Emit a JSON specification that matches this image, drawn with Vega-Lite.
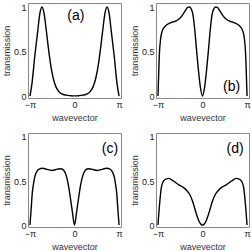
{
  "$schema": "https://vega.github.io/schema/vega-lite/v6.json",
  "padding": {"left": 1, "top": 2, "right": 0, "bottom": 0},
  "background": "white",
  "datasets": {
    "curves": [
      {"p":"a","x":-3.1416,"y":0},{"p":"a","x":-3.0,"y":0.14},{"p":"a","x":-2.8,"y":0.45},{"p":"a","x":-2.6,"y":0.72},{"p":"a","x":-2.45,"y":0.92},{"p":"a","x":-2.3,"y":1.0},{"p":"a","x":-2.15,"y":0.93},{"p":"a","x":-2.0,"y":0.75},{"p":"a","x":-1.85,"y":0.55},{"p":"a","x":-1.7,"y":0.37},{"p":"a","x":-1.5,"y":0.2},{"p":"a","x":-1.3,"y":0.1},{"p":"a","x":-1.1,"y":0.05},{"p":"a","x":-0.9,"y":0.025},{"p":"a","x":-0.6,"y":0.01},{"p":"a","x":-0.3,"y":0.004},{"p":"a","x":0,"y":0.002},
      {"p":"a","x":0.3,"y":0.004},{"p":"a","x":0.6,"y":0.01},{"p":"a","x":0.9,"y":0.025},{"p":"a","x":1.1,"y":0.05},{"p":"a","x":1.3,"y":0.1},{"p":"a","x":1.5,"y":0.2},{"p":"a","x":1.7,"y":0.37},{"p":"a","x":1.85,"y":0.55},{"p":"a","x":2.0,"y":0.75},{"p":"a","x":2.15,"y":0.93},{"p":"a","x":2.3,"y":1.0},{"p":"a","x":2.45,"y":0.92},{"p":"a","x":2.6,"y":0.72},{"p":"a","x":2.8,"y":0.45},{"p":"a","x":3.0,"y":0.14},{"p":"a","x":3.1416,"y":0},

      {"p":"b","x":-3.1416,"y":0},{"p":"b","x":-3.05,"y":0.45},{"p":"b","x":-2.95,"y":0.65},{"p":"b","x":-2.82,"y":0.74},{"p":"b","x":-2.6,"y":0.79},{"p":"b","x":-2.3,"y":0.82},{"p":"b","x":-2.0,"y":0.835},{"p":"b","x":-1.7,"y":0.86},{"p":"b","x":-1.45,"y":0.9},{"p":"b","x":-1.25,"y":0.95},{"p":"b","x":-1.05,"y":0.995},{"p":"b","x":-0.93,"y":1.0},{"p":"b","x":-0.8,"y":0.98},{"p":"b","x":-0.68,"y":0.92},{"p":"b","x":-0.55,"y":0.75},{"p":"b","x":-0.41,"y":0.5},{"p":"b","x":-0.28,"y":0.28},{"p":"b","x":-0.15,"y":0.1},{"p":"b","x":0,"y":0},
      {"p":"b","x":0.15,"y":0.1},{"p":"b","x":0.28,"y":0.28},{"p":"b","x":0.41,"y":0.5},{"p":"b","x":0.55,"y":0.75},{"p":"b","x":0.68,"y":0.92},{"p":"b","x":0.8,"y":0.98},{"p":"b","x":0.93,"y":1.0},{"p":"b","x":1.05,"y":0.995},{"p":"b","x":1.25,"y":0.95},{"p":"b","x":1.45,"y":0.9},{"p":"b","x":1.7,"y":0.86},{"p":"b","x":2.0,"y":0.835},{"p":"b","x":2.3,"y":0.82},{"p":"b","x":2.6,"y":0.79},{"p":"b","x":2.82,"y":0.74},{"p":"b","x":2.95,"y":0.65},{"p":"b","x":3.05,"y":0.45},{"p":"b","x":3.1416,"y":0},

      {"p":"c","x":-3.1416,"y":0},{"p":"c","x":-3.05,"y":0.2},{"p":"c","x":-2.98,"y":0.36},{"p":"c","x":-2.88,"y":0.48},{"p":"c","x":-2.8,"y":0.55},{"p":"c","x":-2.65,"y":0.61},{"p":"c","x":-2.5,"y":0.635},{"p":"c","x":-2.25,"y":0.645},{"p":"c","x":-2.0,"y":0.635},{"p":"c","x":-1.6,"y":0.62},{"p":"c","x":-1.2,"y":0.635},{"p":"c","x":-0.95,"y":0.64},{"p":"c","x":-0.75,"y":0.62},{"p":"c","x":-0.6,"y":0.57},{"p":"c","x":-0.45,"y":0.47},{"p":"c","x":-0.31,"y":0.33},{"p":"c","x":-0.15,"y":0.15},{"p":"c","x":0,"y":0},
      {"p":"c","x":0.15,"y":0.15},{"p":"c","x":0.31,"y":0.33},{"p":"c","x":0.45,"y":0.47},{"p":"c","x":0.6,"y":0.57},{"p":"c","x":0.75,"y":0.62},{"p":"c","x":0.95,"y":0.64},{"p":"c","x":1.2,"y":0.635},{"p":"c","x":1.6,"y":0.62},{"p":"c","x":2.0,"y":0.635},{"p":"c","x":2.25,"y":0.645},{"p":"c","x":2.5,"y":0.635},{"p":"c","x":2.65,"y":0.61},{"p":"c","x":2.8,"y":0.55},{"p":"c","x":2.88,"y":0.48},{"p":"c","x":2.98,"y":0.36},{"p":"c","x":3.05,"y":0.2},{"p":"c","x":3.1416,"y":0},

      {"p":"d","x":-3.1416,"y":0},{"p":"d","x":-3.02,"y":0.25},{"p":"d","x":-2.9,"y":0.43},{"p":"d","x":-2.75,"y":0.5},{"p":"d","x":-2.55,"y":0.525},{"p":"d","x":-2.37,"y":0.53},{"p":"d","x":-2.15,"y":0.51},{"p":"d","x":-1.97,"y":0.49},{"p":"d","x":-1.7,"y":0.46},{"p":"d","x":-1.38,"y":0.43},{"p":"d","x":-1.1,"y":0.39},{"p":"d","x":-0.91,"y":0.35},{"p":"d","x":-0.7,"y":0.27},{"p":"d","x":-0.55,"y":0.19},{"p":"d","x":-0.4,"y":0.11},{"p":"d","x":-0.24,"y":0.04},{"p":"d","x":-0.1,"y":0.008},{"p":"d","x":0,"y":0},
      {"p":"d","x":0.1,"y":0.008},{"p":"d","x":0.24,"y":0.04},{"p":"d","x":0.4,"y":0.11},{"p":"d","x":0.55,"y":0.19},{"p":"d","x":0.7,"y":0.27},{"p":"d","x":0.91,"y":0.35},{"p":"d","x":1.1,"y":0.39},{"p":"d","x":1.38,"y":0.43},{"p":"d","x":1.7,"y":0.46},{"p":"d","x":1.97,"y":0.49},{"p":"d","x":2.15,"y":0.51},{"p":"d","x":2.37,"y":0.53},{"p":"d","x":2.55,"y":0.525},{"p":"d","x":2.75,"y":0.5},{"p":"d","x":2.9,"y":0.43},{"p":"d","x":3.02,"y":0.25},{"p":"d","x":3.1416,"y":0}
    ],
    "labels": [
      {"p":"a","lx":0.1,"ly":0.9,"label":"(a)"},
      {"p":"b","lx":2.05,"ly":0.1,"label":"(b)"},
      {"p":"c","lx":2.5,"ly":0.86,"label":"(c)"},
      {"p":"d","lx":2.3,"ly":0.86,"label":"(d)"}
    ]
  },
  "spacing": 9,
  "vconcat": [
    {"spacing": 6, "hconcat": [
      {"width": 93, "height": 95, "layer": [
        {"data": {"name": "curves"}, "transform": [{"filter": "datum.p == 'a'"}],
         "mark": {"type": "line", "color": "black", "strokeWidth": 1.4, "interpolate": "monotone", "clip": true},
         "encoding": {
           "x": {"field": "x", "type": "quantitative", "scale": {"domain": [-3.28, 3.28], "nice": false, "zero": false}, "axis": {"title": "wavevector", "values": [-3.14159, 0, 3.14159], "labelExpr": "datum.value < -1 ? '−π' : datum.value > 1 ? 'π' : '0'"}},
           "y": {"field": "y", "type": "quantitative", "scale": {"domain": [-0.022, 1.045], "nice": false, "zero": false}, "axis": {"title": "transmission", "values": [0, 0.5, 1], "labelExpr": "datum.value == 0.5 ? '0.5' : datum.value == 1 ? '1' : '0'"}}}},
        {"data": {"name": "labels"}, "transform": [{"filter": "datum.p == 'a'"}],
         "mark": {"type": "text", "font": "Liberation Sans", "fontSize": 14, "color": "black"},
         "encoding": {"x": {"field": "lx", "type": "quantitative"}, "y": {"field": "ly", "type": "quantitative"}, "text": {"field": "label"}}}
      ]},
      {"width": 93, "height": 95, "layer": [
        {"data": {"name": "curves"}, "transform": [{"filter": "datum.p == 'b'"}],
         "mark": {"type": "line", "color": "black", "strokeWidth": 1.4, "interpolate": "monotone", "clip": true},
         "encoding": {
           "x": {"field": "x", "type": "quantitative", "scale": {"domain": [-3.28, 3.28], "nice": false, "zero": false}, "axis": {"title": "wavevector", "values": [-3.14159, 0, 3.14159], "labelExpr": "datum.value < -1 ? '−π' : datum.value > 1 ? 'π' : '0'"}},
           "y": {"field": "y", "type": "quantitative", "scale": {"domain": [-0.022, 1.045], "nice": false, "zero": false}, "axis": {"title": "transmission", "values": [0, 0.5, 1], "labelExpr": "datum.value == 0.5 ? '0.5' : datum.value == 1 ? '1' : '0'"}}}},
        {"data": {"name": "labels"}, "transform": [{"filter": "datum.p == 'b'"}],
         "mark": {"type": "text", "font": "Liberation Sans", "fontSize": 14, "color": "black"},
         "encoding": {"x": {"field": "lx", "type": "quantitative"}, "y": {"field": "ly", "type": "quantitative"}, "text": {"field": "label"}}}
      ]}
    ]},
    {"spacing": 6, "hconcat": [
      {"width": 93, "height": 94, "layer": [
        {"data": {"name": "curves"}, "transform": [{"filter": "datum.p == 'c'"}],
         "mark": {"type": "line", "color": "black", "strokeWidth": 1.4, "interpolate": "monotone", "clip": true},
         "encoding": {
           "x": {"field": "x", "type": "quantitative", "scale": {"domain": [-3.28, 3.28], "nice": false, "zero": false}, "axis": {"title": "wavevector", "values": [-3.14159, 0, 3.14159], "labelExpr": "datum.value < -1 ? '−π' : datum.value > 1 ? 'π' : '0'"}},
           "y": {"field": "y", "type": "quantitative", "scale": {"domain": [-0.022, 1.045], "nice": false, "zero": false}, "axis": {"title": "transmission", "values": [0, 0.5, 1], "labelExpr": "datum.value == 0.5 ? '0.5' : datum.value == 1 ? '1' : '0'"}}}},
        {"data": {"name": "labels"}, "transform": [{"filter": "datum.p == 'c'"}],
         "mark": {"type": "text", "font": "Liberation Sans", "fontSize": 14, "color": "black"},
         "encoding": {"x": {"field": "lx", "type": "quantitative"}, "y": {"field": "ly", "type": "quantitative"}, "text": {"field": "label"}}}
      ]},
      {"width": 93, "height": 94, "layer": [
        {"data": {"name": "curves"}, "transform": [{"filter": "datum.p == 'd'"}],
         "mark": {"type": "line", "color": "black", "strokeWidth": 1.4, "interpolate": "monotone", "clip": true},
         "encoding": {
           "x": {"field": "x", "type": "quantitative", "scale": {"domain": [-3.28, 3.28], "nice": false, "zero": false}, "axis": {"title": "wavevector", "values": [-3.14159, 0, 3.14159], "labelExpr": "datum.value < -1 ? '−π' : datum.value > 1 ? 'π' : '0'"}},
           "y": {"field": "y", "type": "quantitative", "scale": {"domain": [-0.022, 1.045], "nice": false, "zero": false}, "axis": {"title": "transmission", "values": [0, 0.5, 1], "labelExpr": "datum.value == 0.5 ? '0.5' : datum.value == 1 ? '1' : '0'"}}}},
        {"data": {"name": "labels"}, "transform": [{"filter": "datum.p == 'd'"}],
         "mark": {"type": "text", "font": "Liberation Sans", "fontSize": 14, "color": "black"},
         "encoding": {"x": {"field": "lx", "type": "quantitative"}, "y": {"field": "ly", "type": "quantitative"}, "text": {"field": "label"}}}
      ]}
    ]}
  ],
  "config": {
    "view": {"stroke": "#888", "strokeWidth": 1},
    "axis": {
      "domain": false, "grid": false, "ticks": false,
      "labelFont": "Liberation Sans", "labelFontSize": 9, "labelColor": "#222", "labelPadding": 2,
      "titleFont": "Liberation Sans", "titleFontSize": 9, "titleFontWeight": "normal", "titleColor": "#333", "titlePadding": 2
    },
    "axisX": {"titlePadding": 4}
  }
}
